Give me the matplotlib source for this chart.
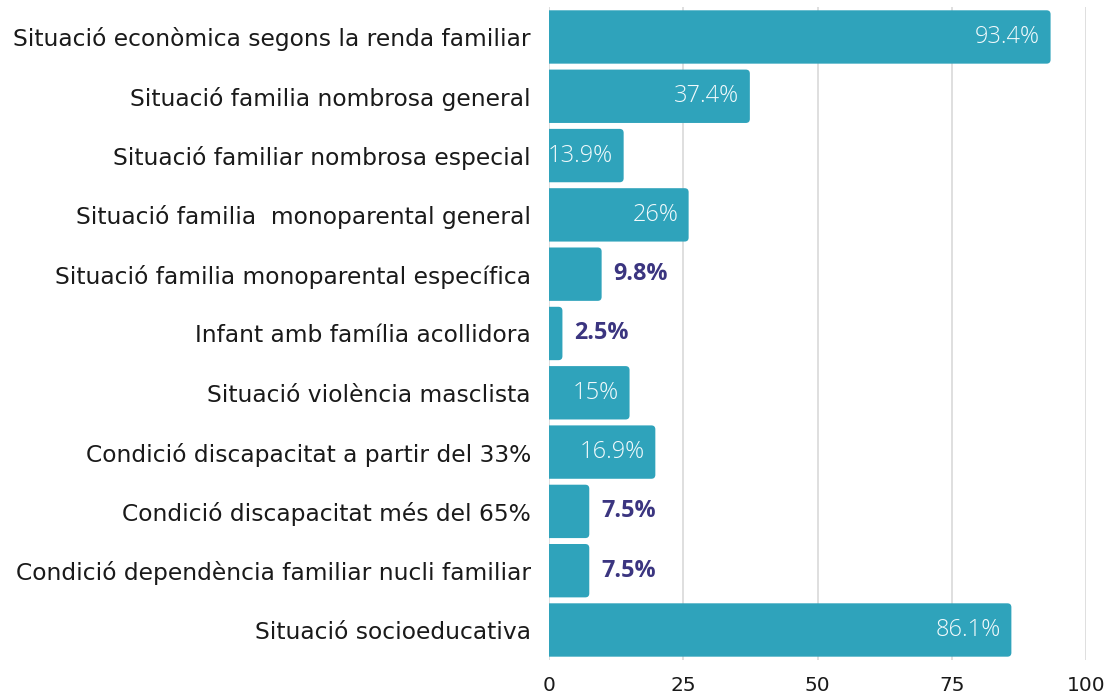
import matplotlib
matplotlib.use("Agg")
import matplotlib.pyplot as plt
from matplotlib.patches import FancyBboxPatch

categories = [
    "Situació econòmica segons la renda familiar",
    "Situació familia nombrosa general",
    "Situació familiar nombrosa especial",
    "Situació familia  monoparental general",
    "Situació familia monoparental específica",
    "Infant amb família acollidora",
    "Situació violència masclista",
    "Condició discapacitat a partir del 33%",
    "Condició discapacitat més del 65%",
    "Condició dependència familiar nucli familiar",
    "Situació socioeducativa",
]
values = [93.4, 37.4, 13.9, 26, 9.8, 2.5, 15, 19.8, 7.5, 7.5, 86.1]
value_labels = ["93.4%", "37.4%", "13.9%", "26%", "9.8%", "2.5%", "15%", "16.9%", "7.5%", "7.5%", "86.1%"]
x_ticks = [0, 25, 50, 75, 100]

plt.rcParams['font.family'] = ['DejaVu Sans']

fig = plt.figure(figsize=(11.1, 6.97), dpi=100)
ax = fig.add_axes([0.4946, 0.0536, 0.4838, 0.9359])

bar_color = "#2fa3bb"
ypos = list(range(len(categories)))
bars = ax.barh(ypos, values, height=0.9, color=bar_color, zorder=3)
ax.set_ylim(len(categories) - 0.5, -0.5)
ax.set_xlim(0, 100)

# rounded corners
xpx = 0.4838 * 1110 / 100.0
ypx = 0.9359 * 697 / len(categories)
for r in bars:
    x0, y0 = r.get_x(), r.get_y()
    w, h = r.get_width(), r.get_height()
    r.set_visible(False)
    rad = 4.0 / xpx
    p = FancyBboxPatch((x0 - 2, y0), w + 2, h,
                       boxstyle=f"round,pad=0,rounding_size={rad}",
                       mutation_aspect=xpx / ypx,
                       facecolor=bar_color, edgecolor="none", zorder=3,
                       clip_on=True)
    ax.add_patch(p)

ax.set_yticks(ypos)
ax.set_yticklabels(categories, fontsize=16.8, color="#1a1a1a")
ax.set_xticks(x_ticks)
ax.set_xticklabels([str(t) for t in x_ticks], fontsize=14.5, color="#1a1a1a")
ax.tick_params(axis='y', length=0, pad=13)
ax.tick_params(axis='x', length=0, pad=12)

ax.grid(axis='x', color="#d9d9d9", linewidth=1.2, zorder=0)
for s in ax.spines.values():
    s.set_visible(False)

for y, v, lab in zip(ypos, values, value_labels):
    if v >= 12:
        ax.annotate(lab, xy=(v, y), xytext=(-7.5, 0), textcoords="offset points",
                    ha="right", va="center", color="#f2fafc", fontsize=17,
                    fontweight="light", family=["Open Sans", "DejaVu Sans"],
                    zorder=4)
    else:
        ax.annotate(lab, xy=(v, y), xytext=(8.5, 0), textcoords="offset points",
                    ha="left", va="center", color="#3b3580", fontsize=16.8,
                    fontweight="bold", family=["Open Sans", "DejaVu Sans"],
                    zorder=4)

fig.savefig("out.png", dpi=100)
